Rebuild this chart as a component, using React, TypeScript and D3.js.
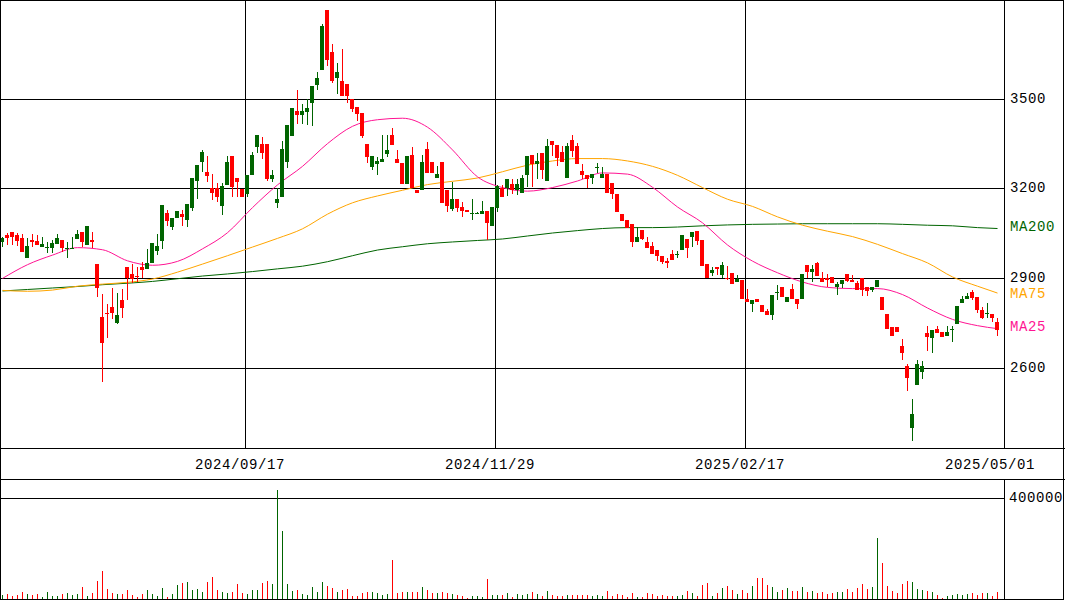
import * as d3 from "d3";

// daily candles, oldest first (one per trading day)
const open = [
  3020, 3042, 3052, 3043, 3032, 2966, 3025, 3022, 3003, 3001, 3000, 3013, 3025, 2999, 2999, 3029, 3052, 3010, 3025, 2945,
  2769, 2783, 2801, 2749, 2825, 2935, 2912, 2907, 2935, 2929, 2950, 2989, 3023, 3116, 3070, 3101, 3115, 3095, 3133, 3224,
  3287, 3253, 3202, 3202, 3140, 3210, 3307, 3235, 3196, 3180, 3243, 3338, 3349, 3347, 3230, 3150, 3170, 3288, 3374, 3457,
  3444, 3454, 3485, 3544, 3595, 3795, 3656, 3569, 3558, 3550, 3499, 3471, 3451, 3347, 3271, 3282, 3288, 3313, 3377, 3299,
  3283, 3213, 3310, 3193, 3193, 3330, 3288, 3234, 3288, 3195, 3129, 3163, 3137, 3126, 3115, 3115, 3112, 3123, 3072, 3134,
  3202, 3199, 3213, 3193, 3184, 3243, 3310, 3282, 3316, 3224, 3357, 3346, 3321, 3235, 3360, 3340, 3256, 3243, 3235, 3271,
  3235, 3246, 3217, 3182, 3113, 3092, 3081, 3020, 3061, 3020, 3005, 2994, 2972, 2956, 2979, 2980, 2992, 3031, 3035, 3056,
  3026, 2945, 2916, 2936, 2908, 2901, 2916, 2886, 2892, 2830, 2814, 2828, 2808, 2788, 2774, 2852, 2871, 2819, 2864, 2830,
  2830, 2942, 2919, 2950, 2901, 2901, 2902, 2869, 2878, 2912, 2894, 2883, 2901, 2871, 2860, 2869, 2836, 2778, 2735, 2735,
  2671, 2604, 2397, 2541, 2586, 2717, 2698, 2729, 2718, 2706, 2728, 2747, 2816, 2830, 2852, 2836, 2794, 2778, 2780, 2752,
];
const high = [
  3036, 3050, 3052, 3050, 3048, 3032, 3046, 3042, 3035, 3020, 3028, 3046, 3025, 3020, 3035, 3061, 3052, 3072, 3052, 2945,
  2845, 2811, 2866, 2849, 2861, 2935, 2945, 2935, 2953, 2995, 3016, 3048, 3143, 3126, 3101, 3123, 3126, 3146, 3233, 3277,
  3327, 3307, 3249, 3217, 3217, 3307, 3307, 3235, 3196, 3243, 3321, 3379, 3371, 3347, 3260, 3202, 3358, 3410, 3467, 3530,
  3481, 3499, 3541, 3589, 3749, 3795, 3684, 3620, 3667, 3550, 3499, 3471, 3451, 3347, 3307, 3304, 3377, 3377, 3400, 3329,
  3283, 3307, 3338, 3193, 3310, 3353, 3288, 3273, 3288, 3195, 3221, 3163, 3154, 3126, 3165, 3120, 3156, 3123, 3136, 3210,
  3210, 3232, 3232, 3232, 3243, 3307, 3310, 3316, 3316, 3363, 3357, 3346, 3340, 3351, 3377, 3351, 3280, 3243, 3246, 3284,
  3271, 3246, 3217, 3182, 3113, 3092, 3081, 3070, 3061, 3037, 3020, 2994, 2972, 2968, 2994, 2990, 3042, 3031, 3053, 3056,
  3026, 2945, 2936, 2936, 2953, 2938, 2916, 2908, 2892, 2864, 2827, 2828, 2808, 2797, 2841, 2875, 2871, 2836, 2881, 2830,
  2912, 2942, 2942, 2953, 2919, 2914, 2902, 2885, 2892, 2912, 2908, 2889, 2901, 2871, 2869, 2894, 2836, 2778, 2735, 2735,
  2696, 2613, 2495, 2626, 2621, 2740, 2727, 2740, 2718, 2738, 2738, 2805, 2838, 2849, 2860, 2836, 2802, 2816, 2780, 2767,
];
const low = [
  3003, 3009, 3009, 3005, 2986, 2966, 3003, 3010, 3003, 2983, 2983, 3013, 2986, 2968, 2999, 3029, 3003, 3010, 2999, 2836,
  2553, 2698, 2763, 2744, 2765, 2827, 2883, 2886, 2901, 2929, 2950, 2975, 2995, 3072, 3059, 3101, 3072, 3070, 3124, 3163,
  3254, 3221, 3162, 3154, 3109, 3210, 3170, 3170, 3170, 3170, 3243, 3316, 3296, 3223, 3221, 3135, 3170, 3266, 3374, 3414,
  3416, 3410, 3407, 3530, 3595, 3608, 3552, 3514, 3508, 3485, 3455, 3424, 3368, 3284, 3260, 3245, 3288, 3304, 3344, 3284,
  3213, 3213, 3199, 3184, 3193, 3251, 3251, 3234, 3150, 3120, 3124, 3120, 3103, 3120, 3092, 3112, 3112, 3026, 3072, 3120,
  3170, 3173, 3182, 3176, 3184, 3204, 3204, 3232, 3232, 3224, 3307, 3274, 3288, 3235, 3304, 3282, 3232, 3202, 3215, 3251,
  3235, 3184, 3165, 3120, 3090, 3068, 3003, 3020, 3028, 3001, 2981, 2956, 2947, 2933, 2958, 2968, 2992, 2968, 3003, 3009,
  2938, 2901, 2905, 2908, 2901, 2892, 2881, 2886, 2830, 2819, 2785, 2819, 2785, 2774, 2760, 2827, 2836, 2819, 2830, 2797,
  2830, 2901, 2886, 2905, 2886, 2869, 2882, 2844, 2867, 2887, 2886, 2860, 2840, 2840, 2853, 2869, 2791, 2729, 2704, 2718,
  2626, 2521, 2353, 2541, 2561, 2655, 2648, 2715, 2702, 2706, 2685, 2747, 2816, 2830, 2825, 2782, 2763, 2767, 2752, 2707,
];
const close = [
  3032, 3033, 3035, 3023, 2986, 3005, 3020, 3010, 3012, 3002, 3015, 3032, 3000, 3000, 3001, 3046, 3020, 3072, 3020, 2866,
  2682, 2780, 2784, 2774, 2799, 2901, 2896, 2903, 2927, 2948, 3016, 3005, 3143, 3090, 3101, 3123, 3103, 3146, 3233, 3277,
  3320, 3241, 3184, 3170, 3206, 3287, 3204, 3221, 3170, 3243, 3310, 3379, 3318, 3230, 3243, 3163, 3330, 3410, 3467, 3444,
  3457, 3467, 3541, 3567, 3742, 3630, 3559, 3589, 3508, 3508, 3466, 3449, 3374, 3304, 3307, 3291, 3299, 3327, 3344, 3284,
  3213, 3307, 3199, 3184, 3288, 3251, 3251, 3246, 3150, 3139, 3165, 3134, 3124, 3120, 3116, 3116, 3123, 3082, 3136, 3208,
  3170, 3232, 3193, 3213, 3235, 3307, 3282, 3290, 3260, 3340, 3344, 3302, 3288, 3340, 3325, 3282, 3243, 3232, 3246, 3272,
  3246, 3184, 3182, 3120, 3090, 3068, 3020, 3037, 3031, 3001, 2981, 2972, 2953, 2950, 2958, 2981, 3042, 3001, 3053, 3023,
  2938, 2901, 2925, 2931, 2942, 2897, 2881, 2895, 2830, 2819, 2827, 2819, 2785, 2774, 2841, 2853, 2836, 2836, 2830, 2811,
  2912, 2919, 2931, 2905, 2886, 2894, 2882, 2878, 2892, 2889, 2886, 2860, 2858, 2856, 2869, 2894, 2791, 2729, 2704, 2718,
  2648, 2564, 2445, 2613, 2604, 2702, 2727, 2715, 2702, 2718, 2729, 2805, 2830, 2838, 2834, 2794, 2767, 2782, 2767, 2724,
];
const volume = [
  14300, 20800, 13000, 16900, 28700, 20800, 16900, 20800, 9100, 28700, 13000, 13000, 20800, 24800, 16900, 20800, 48200, 13000, 24800, 71700,
  110800, 40400, 24800, 20800, 20800, 36500, 16900, 9100, 20800, 36500, 20800, 13000, 44300, 9100, 20800, 56000, 63800, 67800, 36500, 40400,
  28700, 67800, 87300, 36500, 28700, 24800, 28700, 59900, 24800, 20800, 36500, 36500, 63800, 71700, 59900, 431300, 271000, 59900, 32600, 36500,
  20800, 16900, 48200, 28700, 67800, 52100, 44300, 28700, 36500, 40400, 13000, 13000, 24800, 28700, 28700, 24800, 16900, 20800, 153800, 24800,
  28700, 28700, 28700, 28700, 48200, 36500, 24800, 24800, 28700, 24800, 20800, 16900, 13000, 5200, 13000, 13000, 9100, 79500, 16900, 16900,
  16900, 24800, 9100, 20800, 16900, 20800, 28700, 20800, 13000, 32600, 16900, 13000, 13000, 16900, 16900, 16900, 16900, 16900, 13000, 16900,
  13000, 32600, 13000, 20800, 16900, 9100, 24800, 9100, 9100, 24800, 20800, 13000, 16900, 13000, 13000, 13000, 16900, 32600, 24800, 13000,
  56000, 63800, 13000, 24800, 44300, 52100, 36500, 20800, 36500, 24800, 52100, 83400, 83400, 56000, 48200, 28700, 36500, 44300, 32600, 32600,
  48200, 28700, 32600, 24800, 28700, 20800, 24800, 28700, 28700, 40400, 28700, 44300, 59900, 40400, 48200, 239800, 142000, 52100, 32600, 24800,
  59900, 71700, 67800, 40400, 36500, 32600, 28700, 16900, 5200, 13000, 16900, 20800, 16900, 20800, 24800, 16900, 24800, 24800, 13000, 28700,
];

// moving averages read every 5th day, last point = last day
const ma25 = [
  2898, 2944, 2976, 3001, 2994, 2957, 2942, 2955, 2997, 3051, 3135, 3211, 3273, 3349, 3407, 3429, 3434, 3404, 3328, 3238,
  3202, 3190, 3202, 3224, 3251, 3247, 3203, 3137, 3084, 3010, 2956, 2917, 2886, 2868, 2864, 2864, 2844, 2799, 2761, 2740, 2730,
];
const ma75 = [
  2858, 2855, 2859, 2872, 2879, 2885, 2896, 2919, 2946, 2974, 3003, 3032, 3064, 3113, 3151, 3174, 3193, 3212, 3223, 3234,
  3255, 3277, 3291, 3299, 3299, 3291, 3273, 3243, 3202, 3163, 3139, 3104, 3076, 3056, 3038, 3012, 2981, 2950, 2903, 2872, 2849,
];
const ma200 = [
  2856, 2861, 2866, 2871, 2877, 2882, 2888, 2897, 2906, 2913, 2921, 2930, 2939, 2954, 2974, 2993, 3004, 3014, 3020, 3025,
  3030, 3040, 3050, 3058, 3065, 3068, 3068, 3070, 3074, 3077, 3079, 3080, 3081, 3081, 3081, 3081, 3079, 3076, 3074, 3068, 3065,
];

const dateLabels = ["2024/09/17", "2024/11/29", "2025/02/17", "2025/05/01"];
const dateIdx = [49, 99, 149, 199];
const priceTicks = [3500, 3200, 2900, 2600];
const volTicks = [400000];

const W = 1065;
const H = 600;
const panelR = 1004;
const mainB = 448;
const dateB = 479;
const volB = 599;
const UP = "#006400";
const DOWN = "#ff0000";
const FONT = "'Liberation Mono', 'DejaVu Sans Mono', monospace";

export default function App() {
  const n = close.length;
  const xb = d3.scaleBand<number>().domain(d3.range(n)).range([0, n * 5]);
  const y = d3.scaleLinear().domain([2600, 3500]).range([367.5, 98.5]);
  const yv = d3.scaleLinear().domain([0, 400000]).range([volB, 498]);
  const px = (v: number) => Math.round(v) + 0.5;

  const maLine = (arr: number[]) =>
    d3
      .line<number>()
      .x((_, k) => xb(k === arr.length - 1 ? n - 1 : k * 5)! + 2.5)
      .y((d) => y(d))
      .curve(d3.curveMonotoneX)(arr) || "";

  const mas = [
    { name: "MA200", data: ma200, color: "#006400", dy: -2 },
    { name: "MA75", data: ma75, color: "#ffa500", dy: 1 },
    { name: "MA25", data: ma25, color: "#ff1493", dy: -2 },
  ];

  return (
    <svg
      width={W}
      height={H}
      style={{ position: "absolute", left: 0, top: 0, background: "#fff", display: "block" }}
    >
      <rect x={0} y={0} width={W} height={H} fill="#fff" />
      <g shapeRendering="crispEdges" stroke="#000" strokeWidth={1}>
        {priceTicks.map((t) => (
          <line key={t} x1={0} x2={panelR} y1={px(y(t))} y2={px(y(t))} />
        ))}
        {dateIdx
          .filter((i) => i < n - 1)
          .map((i) => (
            <line key={i} x1={xb(i)! + 0.5} x2={xb(i)! + 0.5} y1={0} y2={mainB} />
          ))}
        {volTicks.map((t) => (
          <line key={t} x1={0} x2={panelR} y1={px(yv(t))} y2={px(yv(t))} />
        ))}
      </g>

      <g fill="none" strokeWidth={1}>
        {mas.map((m) => (
          <path key={m.name} d={maLine(m.data)} stroke={m.color} />
        ))}
      </g>

      <g shapeRendering="crispEdges">
        {close.map((c, i) => {
          const o = open[i];
          const up = c >= o;
          const col = up ? UP : DOWN;
          const x0 = xb(i)!;
          const top = y(Math.max(o, c));
          const bot = y(Math.min(o, c));
          return (
            <g key={i} fill={col}>
              <rect x={x0 + 2} y={y(high[i])} width={1} height={Math.max(1, y(low[i]) - y(high[i]))} />
              <rect x={x0} y={top} width={4} height={Math.max(1, bot - top)} />
              <rect x={x0 + 2} y={yv(volume[i])} width={1} height={volB - yv(volume[i])} />
            </g>
          );
        })}
      </g>

      <g shapeRendering="crispEdges" stroke="#000" strokeWidth={1} fill="none">
        <rect x={0.5} y={0.5} width={W - 2} height={volB} />
        <line x1={panelR + 0.5} x2={panelR + 0.5} y1={0} y2={mainB} />
        <line x1={panelR + 0.5} x2={panelR + 0.5} y1={dateB} y2={volB} />
        <line x1={0} x2={W} y1={mainB + 0.5} y2={mainB + 0.5} />
        <line x1={0} x2={W} y1={dateB + 0.5} y2={dateB + 0.5} />
      </g>

      <g fontFamily={FONT} fontSize={14} letterSpacing={0.6} fill="#000">
        {priceTicks.map((t) => (
          <text key={t} x={1010} y={y(t)} dominantBaseline="central">
            {t}
          </text>
        ))}
        {dateLabels.map((d, k) => (
          <text key={d} x={xb(dateIdx[k])! - 5} y={465} textAnchor="middle" dominantBaseline="central">
            {d}
          </text>
        ))}
        {volTicks.map((t) => (
          <text key={t} x={1009} y={yv(t)} dominantBaseline="central">
            {t}
          </text>
        ))}
        {mas.map((m) => (
          <text
            key={m.name}
            x={1010}
            y={y(m.data[m.data.length - 1]) + m.dy}
            dominantBaseline="central"
            fill={m.color}
          >
            {m.name}
          </text>
        ))}
      </g>
    </svg>
  );
}
